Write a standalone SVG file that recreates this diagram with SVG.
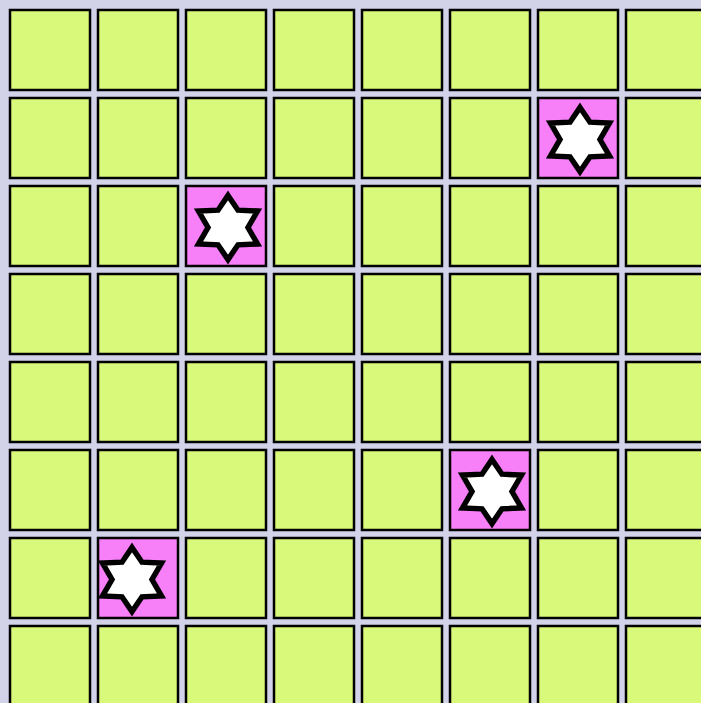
<svg xmlns="http://www.w3.org/2000/svg" xmlns:xlink="http://www.w3.org/1999/xlink" width="701" height="703" viewBox="0 0 701 703">
<style>
.c{fill:#d8f97a;stroke:#000;stroke-width:2.5}
.p{fill:#f77ff7;stroke:#000;stroke-width:2.5}
.s{fill:#fff;stroke:#000;stroke-width:5.5;stroke-linejoin:miter;stroke-miterlimit:10}
</style>
<defs>
<path id="star" class="s" d="M0,-32 L10,-17.32 L29.5,-16.5 L20,0 L29.5,16.5 L10,17.32 L0,32 L-10,17.32 L-29.5,16.5 L-20,0 L-29.5,-16.5 L-10,-17.32 Z"/>
</defs>
<rect x="0" y="0" width="701" height="703" fill="#d2d2e8"/>
<g id="r0">
<g id="c0_0"><rect class="c" x="10" y="10" width="80" height="80"/></g>
<g id="c0_1"><rect class="c" x="98" y="10" width="80" height="80"/></g>
<g id="c0_2"><rect class="c" x="186" y="10" width="80" height="80"/></g>
<g id="c0_3"><rect class="c" x="274" y="10" width="80" height="80"/></g>
<g id="c0_4"><rect class="c" x="362" y="10" width="80" height="80"/></g>
<g id="c0_5"><rect class="c" x="450" y="10" width="80" height="80"/></g>
<g id="c0_6"><rect class="c" x="538" y="10" width="80" height="80"/></g>
<g id="c0_7"><rect class="c" x="626" y="10" width="80" height="80"/></g>
</g>
<g id="r1">
<g id="c1_0"><rect class="c" x="10" y="98" width="80" height="80"/></g>
<g id="c1_1"><rect class="c" x="98" y="98" width="80" height="80"/></g>
<g id="c1_2"><rect class="c" x="186" y="98" width="80" height="80"/></g>
<g id="c1_3"><rect class="c" x="274" y="98" width="80" height="80"/></g>
<g id="c1_4"><rect class="c" x="362" y="98" width="80" height="80"/></g>
<g id="c1_5"><rect class="c" x="450" y="98" width="80" height="80"/></g>
<g id="c1_6"><rect class="p" x="538" y="98" width="80" height="80"/><use xlink:href="#star" href="#star" transform="translate(580,139.5)"/></g>
<g id="c1_7"><rect class="c" x="626" y="98" width="80" height="80"/></g>
</g>
<g id="r2">
<g id="c2_0"><rect class="c" x="10" y="186" width="80" height="80"/></g>
<g id="c2_1"><rect class="c" x="98" y="186" width="80" height="80"/></g>
<g id="c2_2"><rect class="p" x="186" y="186" width="80" height="80"/><use xlink:href="#star" href="#star" transform="translate(228,227.5)"/></g>
<g id="c2_3"><rect class="c" x="274" y="186" width="80" height="80"/></g>
<g id="c2_4"><rect class="c" x="362" y="186" width="80" height="80"/></g>
<g id="c2_5"><rect class="c" x="450" y="186" width="80" height="80"/></g>
<g id="c2_6"><rect class="c" x="538" y="186" width="80" height="80"/></g>
<g id="c2_7"><rect class="c" x="626" y="186" width="80" height="80"/></g>
</g>
<g id="r3">
<g id="c3_0"><rect class="c" x="10" y="274" width="80" height="80"/></g>
<g id="c3_1"><rect class="c" x="98" y="274" width="80" height="80"/></g>
<g id="c3_2"><rect class="c" x="186" y="274" width="80" height="80"/></g>
<g id="c3_3"><rect class="c" x="274" y="274" width="80" height="80"/></g>
<g id="c3_4"><rect class="c" x="362" y="274" width="80" height="80"/></g>
<g id="c3_5"><rect class="c" x="450" y="274" width="80" height="80"/></g>
<g id="c3_6"><rect class="c" x="538" y="274" width="80" height="80"/></g>
<g id="c3_7"><rect class="c" x="626" y="274" width="80" height="80"/></g>
</g>
<g id="r4">
<g id="c4_0"><rect class="c" x="10" y="362" width="80" height="80"/></g>
<g id="c4_1"><rect class="c" x="98" y="362" width="80" height="80"/></g>
<g id="c4_2"><rect class="c" x="186" y="362" width="80" height="80"/></g>
<g id="c4_3"><rect class="c" x="274" y="362" width="80" height="80"/></g>
<g id="c4_4"><rect class="c" x="362" y="362" width="80" height="80"/></g>
<g id="c4_5"><rect class="c" x="450" y="362" width="80" height="80"/></g>
<g id="c4_6"><rect class="c" x="538" y="362" width="80" height="80"/></g>
<g id="c4_7"><rect class="c" x="626" y="362" width="80" height="80"/></g>
</g>
<g id="r5">
<g id="c5_0"><rect class="c" x="10" y="450" width="80" height="80"/></g>
<g id="c5_1"><rect class="c" x="98" y="450" width="80" height="80"/></g>
<g id="c5_2"><rect class="c" x="186" y="450" width="80" height="80"/></g>
<g id="c5_3"><rect class="c" x="274" y="450" width="80" height="80"/></g>
<g id="c5_4"><rect class="c" x="362" y="450" width="80" height="80"/></g>
<g id="c5_5"><rect class="p" x="450" y="450" width="80" height="80"/><use xlink:href="#star" href="#star" transform="translate(492,491.5)"/></g>
<g id="c5_6"><rect class="c" x="538" y="450" width="80" height="80"/></g>
<g id="c5_7"><rect class="c" x="626" y="450" width="80" height="80"/></g>
</g>
<g id="r6">
<g id="c6_0"><rect class="c" x="10" y="538" width="80" height="80"/></g>
<g id="c6_1"><rect class="p" x="98" y="538" width="80" height="80"/><use xlink:href="#star" href="#star" transform="translate(132,579.5)"/></g>
<g id="c6_2"><rect class="c" x="186" y="538" width="80" height="80"/></g>
<g id="c6_3"><rect class="c" x="274" y="538" width="80" height="80"/></g>
<g id="c6_4"><rect class="c" x="362" y="538" width="80" height="80"/></g>
<g id="c6_5"><rect class="c" x="450" y="538" width="80" height="80"/></g>
<g id="c6_6"><rect class="c" x="538" y="538" width="80" height="80"/></g>
<g id="c6_7"><rect class="c" x="626" y="538" width="80" height="80"/></g>
</g>
<g id="r7">
<g id="c7_0"><rect class="c" x="10" y="626" width="80" height="80"/></g>
<g id="c7_1"><rect class="c" x="98" y="626" width="80" height="80"/></g>
<g id="c7_2"><rect class="c" x="186" y="626" width="80" height="80"/></g>
<g id="c7_3"><rect class="c" x="274" y="626" width="80" height="80"/></g>
<g id="c7_4"><rect class="c" x="362" y="626" width="80" height="80"/></g>
<g id="c7_5"><rect class="c" x="450" y="626" width="80" height="80"/></g>
<g id="c7_6"><rect class="c" x="538" y="626" width="80" height="80"/></g>
<g id="c7_7"><rect class="c" x="626" y="626" width="80" height="80"/></g>
</g>
</svg>
